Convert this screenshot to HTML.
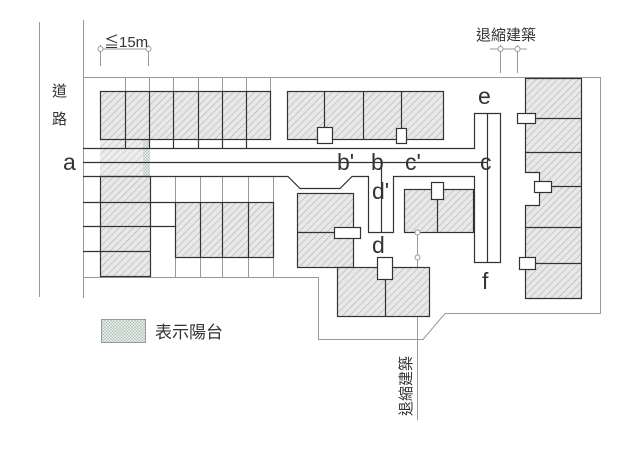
<!DOCTYPE html>
<html><head><meta charset="utf-8"><style>
html,body{margin:0;padding:0;background:#fff}
svg{display:block}
text{font-family:"Liberation Sans","Noto Sans CJK TC",sans-serif;fill:#333}
</style></head><body>
<svg width="640" height="453" viewBox="0 0 640 453" xmlns="http://www.w3.org/2000/svg">
<defs>
<pattern id="h" width="5" height="5" patternUnits="userSpaceOnUse" patternTransform="rotate(45)">
<rect width="5" height="5" fill="#e8e8e8"/><line x1="0" y1="0" x2="0" y2="5" stroke="#999" stroke-width="0.8"/>
</pattern>
<pattern id="x" width="3" height="3" patternUnits="userSpaceOnUse">
<rect width="3" height="3" fill="#e4ece8"/><path d="M0 0L3 3M3 0L0 3" stroke="#a8b8b0" stroke-width="0.5"/>
</pattern>
</defs>
<g stroke="#999" stroke-width="1" fill="none">
<line x1="39.5" y1="22" x2="39.5" y2="297"/>
<line x1="83.5" y1="20" x2="83.5" y2="298"/>
<polyline points="83.5,77.5 600.5,77.5 600.5,313.5 445,313.5 423,339.5 318.5,339.5 318.5,277.5 83.5,277.5"/>
<line x1="100" y1="49" x2="148" y2="49"/>
<line x1="100.5" y1="45" x2="100.5" y2="66"/><line x1="148.5" y1="45" x2="148.5" y2="66"/>
<circle cx="100.5" cy="49" r="2.5" fill="#fff"/><circle cx="148.5" cy="49" r="2.5" fill="#fff"/>
<line x1="490" y1="49" x2="527" y2="49"/>
<line x1="500.5" y1="45" x2="500.5" y2="73"/><line x1="517.5" y1="45" x2="517.5" y2="73"/>
<circle cx="500.5" cy="49" r="2.5" fill="#fff"/><circle cx="517.5" cy="49" r="2.5" fill="#fff"/>
<line x1="417.5" y1="232" x2="417.5" y2="420"/>
<line x1="125.5" y1="77" x2="125.5" y2="148"/><line x1="149.5" y1="77" x2="149.5" y2="148"/>
<line x1="173.5" y1="77" x2="173.5" y2="148"/><line x1="198.5" y1="77" x2="198.5" y2="148"/>
<line x1="222.5" y1="77" x2="222.5" y2="148"/><line x1="246.5" y1="77" x2="246.5" y2="148"/>
<line x1="270.5" y1="77" x2="270.5" y2="91"/>
<line x1="175.5" y1="176" x2="175.5" y2="277"/><line x1="200.5" y1="176" x2="200.5" y2="277"/>
<line x1="222.5" y1="176" x2="222.5" y2="277"/><line x1="248.5" y1="176" x2="248.5" y2="277"/>
<line x1="273.5" y1="176" x2="273.5" y2="277"/>
<line x1="100.5" y1="176" x2="100.5" y2="277"/>
</g>
<rect x="100" y="139" width="43" height="37" fill="url(#h)" opacity="0.8"/>
<rect x="143" y="139" width="7" height="37" fill="url(#x)"/>
<g stroke="#333" stroke-width="1.2" fill="url(#h)">
<rect x="100.5" y="91.5" width="170" height="48"/>
<rect x="100.5" y="176.5" width="50" height="100"/>
<rect x="175.5" y="202.5" width="98" height="55"/>
<rect x="287.5" y="91.5" width="156" height="48"/>
<polygon points="525.5,78.5 581.5,78.5 581.5,298.5 525.5,298.5 525.5,205.5 539.5,205.5 539.5,172.5 525.5,172.5"/>
<rect x="297.5" y="193.5" width="56" height="74"/>
<rect x="404.5" y="189.5" width="69" height="43"/>
<rect x="337.5" y="267.5" width="92" height="49"/>
</g>
<g stroke="#333" stroke-width="1.2" fill="none">
<line x1="125.5" y1="91" x2="125.5" y2="148"/><line x1="149.5" y1="91" x2="149.5" y2="148"/>
<line x1="173.5" y1="91" x2="173.5" y2="148"/><line x1="198.5" y1="91" x2="198.5" y2="148"/>
<line x1="222.5" y1="91" x2="222.5" y2="148"/><line x1="246.5" y1="91" x2="246.5" y2="148"/>
<line x1="83" y1="202.5" x2="175" y2="202.5"/><line x1="83" y1="226.5" x2="175" y2="226.5"/>
<line x1="83" y1="251.5" x2="150" y2="251.5"/>
<line x1="200.5" y1="202" x2="200.5" y2="257"/><line x1="222.5" y1="202" x2="222.5" y2="257"/><line x1="248.5" y1="202" x2="248.5" y2="257"/>
<line x1="324.5" y1="91" x2="324.5" y2="127"/><line x1="363.5" y1="91" x2="363.5" y2="139"/><line x1="401.5" y1="91" x2="401.5" y2="128"/>
<line x1="535" y1="118.5" x2="581" y2="118.5"/><line x1="525" y1="152.5" x2="581" y2="152.5"/>
<line x1="550" y1="186.5" x2="581" y2="186.5"/><line x1="525" y1="227.5" x2="581" y2="227.5"/>
<line x1="535" y1="263.5" x2="581" y2="263.5"/>
<line x1="297" y1="232.5" x2="334" y2="232.5"/>
<line x1="437.5" y1="199" x2="437.5" y2="232"/>
<line x1="385.5" y1="279" x2="385.5" y2="316"/>
<polyline points="83,148.5 474.5,148.5 474.5,113.5 500.5,113.5 500.5,262.5 474.5,262.5 474.5,176.5 393.5,176.5 393.5,232.5 368.5,232.5 368.5,176.5 352,176.5 340,188.5 300,188.5 288,176.5 83,176.5"/>
<line x1="83" y1="162.5" x2="487" y2="162.5"/>
<line x1="487.5" y1="113" x2="487.5" y2="262"/>
<line x1="381.5" y1="162" x2="381.5" y2="232"/>
</g>
<g stroke="#333" stroke-width="1.2" fill="#fff">
<rect x="317.5" y="127.5" width="15" height="16"/>
<rect x="396.5" y="128.5" width="10" height="15"/>
<rect x="517.5" y="113.5" width="18" height="10"/>
<rect x="534.5" y="181.5" width="17" height="11"/>
<rect x="519.5" y="257.5" width="16" height="12"/>
<rect x="334.5" y="227.5" width="26" height="11"/>
<rect x="431.5" y="182.5" width="12" height="17"/>
<rect x="377.5" y="257.5" width="15" height="22"/>
</g>
<g stroke="#999" fill="#fff"><circle cx="417.5" cy="232.5" r="2.5"/><circle cx="417.5" cy="257.5" r="2.5"/></g>
<rect x="101.5" y="319.5" width="44" height="23" fill="url(#x)" stroke="#999"/>
<text x="155" y="338" font-size="17">表示陽台</text>
<text x="104" y="47" font-size="15">≦15m</text>
<text x="476" y="40" font-size="15">退縮建築</text>
<text x="52" y="96" font-size="15">道</text>
<text x="52" y="124" font-size="15">路</text>
<g font-size="23">
<text x="63" y="170">a</text>
<text x="337" y="170">b'</text>
<text x="371" y="170">b</text>
<text x="405" y="170">c'</text>
<text x="480" y="170">c</text>
<text x="478" y="104">e</text>
<text x="482" y="289">f</text>
<text x="372" y="199">d'</text>
<text x="372" y="253">d</text>
</g>
<text transform="translate(411,416) rotate(-90)" font-size="15">退縮建築</text>
</svg>
</body></html>
